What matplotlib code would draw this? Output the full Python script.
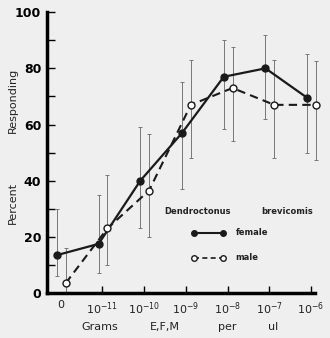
import numpy as np
import matplotlib
matplotlib.use("Agg")
from matplotlib import pyplot as plt

# doses (grams E,F,M per ul)
doses = ["0", r"$10^{-11}$", r"$10^{-10}$", r"$10^{-9}$", r"$10^{-8}$", r"$10^{-7}$", r"$10^{-6}$"]

female = [13.5, 17.5, 40, 57, 77, 80, 69.5]
female_lo = [6, 7, 23, 37, 58.5, 62, 50]
female_hi = [30, 35, 59, 75, 90, 92, 85]

male = [3.5, 23, 36.5, 67, 73, 67, 67]
male_lo = [0.5, 10, 20, 48, 54, 48, 47.5]
male_hi = [16, 42, 56.5, 83, 87.5, 83, 82.5]

bg = '#efefef'
ink = '#1a1a1a'
fig = plt.figure(figsize=(3.3, 3.38), dpi=100, facecolor=bg)
ax = fig.add_axes([0.142, 0.133, 0.813, 0.831], facecolor=bg)

x = np.arange(len(doses))
xf = x - 0.09
xm = x + 0.12

f = np.array(female)
m = np.array(male)
ax.errorbar(xf, f, yerr=[f - np.array(female_lo), np.array(female_hi) - f],
            fmt='none', ecolor='#777777', elinewidth=0.7, capsize=1.5, capthick=0.7, clip_on=False)
ax.errorbar(xm, m, yerr=[m - np.array(male_lo), np.array(male_hi) - m],
            fmt='none', ecolor='#777777', elinewidth=0.7, capsize=1.5, capthick=0.7, clip_on=False)

ax.plot(xf, f, '-o', color=ink, lw=1.6, ms=5, mfc=ink, zorder=3, clip_on=False)
ax.plot(xm, m, '--o', color=ink, lw=1.5, ms=5, mfc='white', mew=1.0,
        dashes=(4, 2.5), zorder=3, clip_on=False)

ax.set_xlim(-0.33, 6.1)
ax.set_ylim(0, 100)
ax.set_xticks(x[1:])
ax.set_xticklabels([])
for xi, lab in zip(x, doses):
    ax.text(xi, -2.5, lab, ha='center', va='top', fontsize=8, color='#222222')

ax.set_yticks([0, 20, 40, 60, 80, 100])
ax.set_yticks([10, 30, 50, 70, 90], minor=True)
ax.tick_params(axis='y', which='both', direction='in', length=6, width=1.0, pad=4)
ax.tick_params(axis='x', direction='in', length=5, width=1.0)
for lab in ax.get_yticklabels():
    lab.set_fontweight('bold')
    lab.set_fontsize(9)

ax.spines['top'].set_visible(False)
ax.spines['right'].set_visible(False)
ax.spines['left'].set_linewidth(2.5)
ax.spines['bottom'].set_linewidth(2.5)

# axis titles, spread out like the original
fig.text(0.04, 0.40, "Percent", rotation=90, ha='center', va='center', fontsize=8, color='#222222')
fig.text(0.04, 0.704, "Responding", rotation=90, ha='center', va='center', fontsize=8, color='#222222')
for word, fx in zip(["Grams", "E,F,M", "per", "ul"], [0.303, 0.50, 0.69, 0.827]):
    fig.text(fx, 0.033, word, ha='center', va='center', fontsize=8, color='#222222')

# legend
ax.text(2.48, 29, "Dendroctonus", fontsize=6, fontweight='bold', va='center', color='#222222')
ax.text(6.05, 29, "brevicomis", fontsize=6, fontweight='bold', va='center', ha='right', color='#222222')
ax.plot([3.19, 3.9], [21.4, 21.4], '-o', color=ink, lw=1.5, ms=4)
ax.text(4.19, 21.4, "female", fontsize=6, fontweight='bold', va='center', color='#222222')
ax.plot([3.19, 3.9], [12.5, 12.5], '--o', color=ink, lw=1.2, ms=4, mfc='white', dashes=(3, 2))
ax.text(4.19, 12.5, "male", fontsize=6, fontweight='bold', va='center', color='#222222')

fig.savefig("out.png", dpi=100, facecolor=bg)
